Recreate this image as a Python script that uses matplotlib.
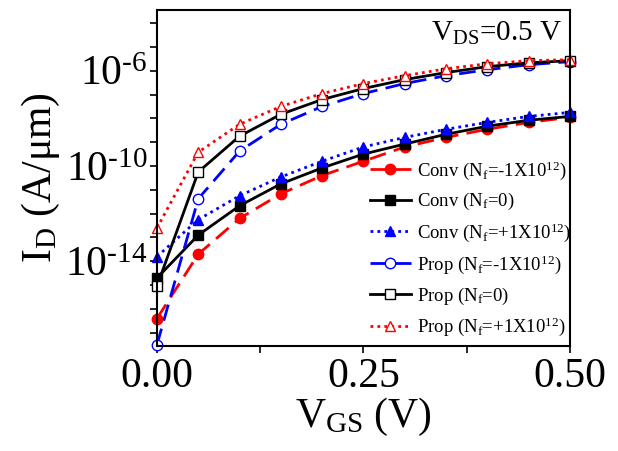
import matplotlib.pyplot as plt
import numpy as np

plt.rcParams['font.family'] = ['Liberation Serif', 'DejaVu Serif']
plt.rcParams['mathtext.fontset'] = 'custom'
plt.rcParams['mathtext.rm'] = 'Liberation Serif'
plt.rcParams['mathtext.it'] = 'Liberation Serif'

vgs = [0.0, 0.05, 0.10, 0.15, 0.20, 0.25, 0.30, 0.35, 0.40, 0.45, 0.50]

# log10 of drain current (A/um)
conv_neg = [-16.4, -13.7, -12.2, -11.17, -10.4, -9.8, -9.2, -8.8, -8.46, -8.17, -7.96]
conv_zero = [-14.7, -12.9, -11.67, -10.75, -10.08, -9.5, -9.08, -8.67, -8.33, -8.08, -7.92]
conv_pos = [-13.8, -12.25, -11.25, -10.46, -9.8, -9.2, -8.8, -8.46, -8.17, -7.92, -7.75]
prop_neg = [-17.5, -11.375, -9.375, -8.25, -7.5, -6.96, -6.54, -6.21, -5.96, -5.75, -5.62]
prop_zero = [-15.04, -10.25, -8.75, -7.83, -7.21, -6.75, -6.375, -6.08, -5.83, -5.67, -5.58]
prop_pos = [-12.6, -9.42, -8.25, -7.5, -6.96, -6.54, -6.21, -5.92, -5.71, -5.58, -5.54]

labels = [r'Conv (N$_f$=$\text{-}$1X10$^{12}$)', r'Conv (N$_f$=0)', r'Conv (N$_f$=+1X10$^{12}$)',
          r'Prop (N$_f$=$\text{-}$1X10$^{12}$)', r'Prop (N$_f$=0)', r'Prop (N$_f$=+1X10$^{12}$)']

fig = plt.figure(figsize=(6.18, 4.51), dpi=100)
ax = fig.add_axes([0.254, 0.233, 0.668, 0.745])

red = '#ff0000'
blue = '#0000ff'
styles = [
    dict(color=red, ls=(0, (6, 3)), marker='o', mfc=red),
    dict(color='black', ls='-', marker='s', mfc='black'),
    dict(color=blue, ls=(0, (1, 1.5)), marker='^', mfc=blue),
    dict(color=blue, ls=(0, (6, 3)), marker='o', mfc='white'),
    dict(color='black', ls='-', marker='s', mfc='white'),
    dict(color=red, ls=(0, (1, 1.5)), marker='^', mfc='white'),
]
series = [conv_neg, conv_zero, conv_pos, prop_neg, prop_zero, prop_pos]
for y, st, lab in zip(series, styles, labels):
    ax.plot(vgs, 10.0 ** np.array(y), lw=2, ms=7.5, mew=1, mec=st['color'],
            label=lab, clip_on=False, **st)

ax.set_yscale('log')
ax.set_xlim(0, 0.5)
ax.set_ylim(10 ** -17.55, 10 ** -3.45)
ax.set_xticks([0, 0.25, 0.5])
ax.set_xticklabels(['0.00', '0.25', '0.50'])
ax.set_xticks([0.125, 0.375], minor=True)
yt = [10.0 ** k for k in range(-17, -3)]
ax.set_yticks(yt)
ax.set_yticklabels([r'10$^{\text{-}%d}$' % -k if k in (-6, -10, -14) else '' for k in range(-17, -3)])
ax.yaxis.set_minor_locator(plt.NullLocator())
ax.tick_params(axis='both', which='both', direction='out', length=5, width=1.2, labelsize=30)
ax.tick_params(axis='y', pad=2)
for s in ax.spines.values():
    s.set_linewidth(1.5)

ax.set_xlabel(r'V$_{\rm GS}$ (V)', fontsize=30, labelpad=0)
ax.set_ylabel(r'I$_{\rm D}$ (A/$\mu$m)', fontsize=30, labelpad=2)
ax.text(0.98, 0.97, r'V$_{\rm DS}$=0.5 V', transform=ax.transAxes, ha='right', va='top', fontsize=21)

ax.legend(loc='lower right', frameon=False, fontsize=13.5, handlelength=2.2, numpoints=1,
          handletextpad=0.3, labelspacing=0.5, borderaxespad=0.0, bbox_to_anchor=(1.02, 0.0))

fig.savefig('out.png', dpi=100)
